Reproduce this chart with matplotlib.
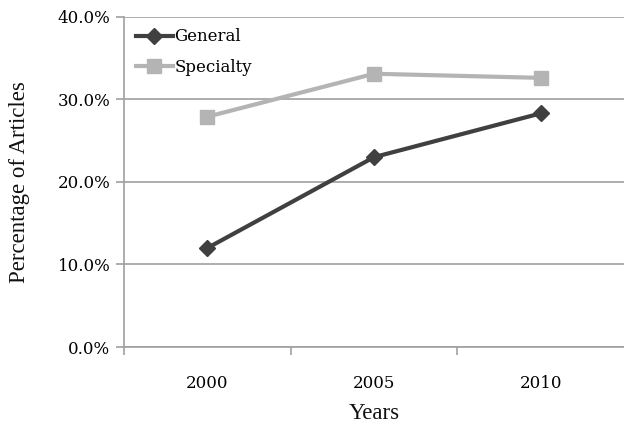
import matplotlib.pyplot as plt
from matplotlib.ticker import FuncFormatter, FixedLocator

years = ['2000', '2005', '2010']
general = [12.0, 23.0, 28.3]
specialty = [27.9, 33.1, 32.6]

plt.rcParams['font.family'] = ['DejaVu Serif']

fig = plt.figure(figsize=(6.24, 4.25), dpi=100)
ax = fig.add_axes([0.199, 0.1835, 0.801, 0.777])

x = list(range(len(years)))
ax.plot(x, general, color='#404040', lw=3, marker='D', ms=8, label='General')
ax.plot(x, specialty, color='#b4b4b4', lw=3, marker='s', ms=10, label='Specialty')

ax.set_xlim(-0.5, 2.5)
ax.set_ylim(0, 40)
ax.set_yticks([0, 10, 20, 30, 40])
ax.yaxis.set_major_formatter(FuncFormatter(lambda v, p: '%.1f%%' % v))
ax.set_xticks(x)
ax.set_xticklabels(years)
ax.xaxis.set_minor_locator(FixedLocator([-0.5, 0.5, 1.5]))
ax.tick_params(axis='x', which='major', length=0, pad=20, labelsize=12)
ax.tick_params(axis='x', which='minor', length=6, color='#a0a0a0', width=1.2)
ax.tick_params(axis='y', length=6, color='#a0a0a0', width=1.2, labelsize=12, pad=4)
ax.grid(axis='y', color='#a0a0a0', lw=1.2)
ax.set_axisbelow(True)
for s in ['top', 'right']:
    ax.spines[s].set_visible(False)
for s in ['left', 'bottom']:
    ax.spines[s].set_color('#a0a0a0')
    ax.spines[s].set_linewidth(1.2)

ax.set_ylabel('Percentage of Articles', fontsize=16.5, labelpad=20,
              family='Liberation Serif', color='#111111')
ax.set_xlabel('Years', fontsize=16.5, labelpad=8, family='Liberation Serif',
              color='#111111')
ax.legend(loc='upper left', frameon=False, fontsize=12, handlelength=2.2,
          handletextpad=0.1, borderaxespad=0.3, labelspacing=0.8)

fig.savefig('out.png', dpi=100)
